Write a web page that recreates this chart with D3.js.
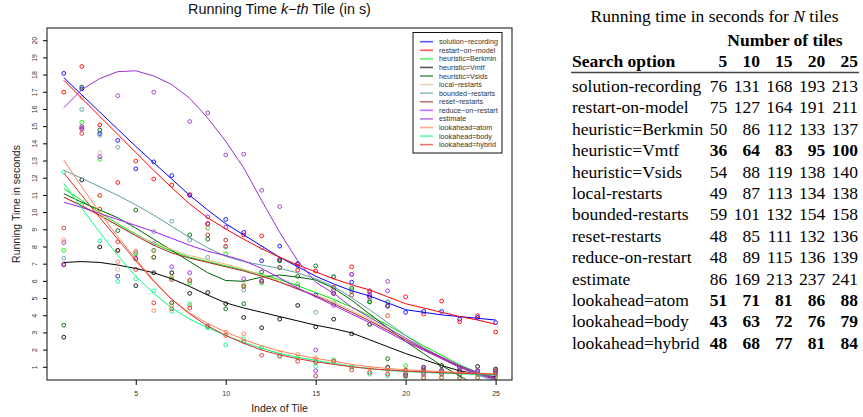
<!DOCTYPE html>
<html>
<head>
<meta charset="utf-8">
<script src="https://cdn.jsdelivr.net/npm/d3@7"></script>
<style>
  body { margin: 0; background: #fff; }
  svg { display: block; }
</style>
</head>
<body>
<svg id="chart" width="863" height="417"></svg>
<script>
// ---- data ----
const tiles = d3.range(1, 26);
const xTicks = [5, 10, 15, 20, 25];
const yTicks = d3.range(1, 21);

const seriesNames = ["solution-recording", "restart-on-model", "heuristic=Berkmin", "heuristic=Vmtf",
  "heuristic=Vsids", "local-restarts", "bounded-restarts", "reset-restarts", "reduce-on-restart",
  "estimate", "lookahead=atom", "lookahead=body", "lookahead=hybrid"];
const seriesColors = ["#0000ff", "#ff0000", "#00ee00", "#000000", "#006400", "#deb887", "#5f9ea0",
  "#a52a2a", "#a020f0", "#9932cc", "#ff7f50", "#00ff7f", "#d9302c"];

// running time of each tile (points)
const solutionRecording = [18.1, 17.2, 14.6, 14.2, 12.55, 12.95, 12.15, 11.0, 9.35, 9.6, 8.85, 7.2, 8.05, 7.0, 5.2, 5.3, 5.95, 5.1, 4.55, 4.2, 4.25, 4.25, 3.8, 3.9, 3.6];
const restartOnModel = [17.0, 18.5, 15.1, 11.75, 13.0, 11.95, 11.6, 11.05, 9.35, 8.05, 8.7, 8.65, 7.25, 6.65, 6.6, 5.65, 6.85, 5.1, 4.0, 5.1, 4.1, 4.85, 3.65, 4.0, 3.05];
const berkmin = [7.8, 15.25, 13.1, 6.3, 7.6, 7.4, 6.2, 5.9, 9.1, 7.6, 5.75, 5.9, 7.2, 5.85, 1.3, 4.75, 5.5, 4.8, 4.8, 1.1, 0.8, 0.85, 0.8, 0.8, 0.75];
const vmtf = [2.75, 11.9, 8.0, 7.8, 5.75, 6.5, 6.5, 5.3, 5.35, 4.7, 3.9, 3.3, 3.8, 4.6, 3.35, 3.8, 2.95, 3.5, 1.0, 0.8, 1.0, 1.1, 1.0, 1.05, 0.9];
const vsids = [3.45, 17.3, 14.8, 8.95, 10.15, 7.8, 4.75, 8.7, 8.45, 4.4, 4.7, 6.55, 7.2, 6.3, 6.9, 6.25, 5.6, 4.8, 1.5, 0.85, 0.4, 0.4, 0.35, 0.4, 0.45];
const localRestarts = [7.0, 15.0, 13.5, 6.7, 7.75, 7.75, 6.25, 6.1, 9.1, 8.0, 5.8, 6.0, 6.8, 5.65, 1.5, 5.5, 5.45, 5.3, 4.0, 0.9, 0.9, 0.8, 0.8, 0.8, 0.7];
const boundedRestarts = [7.35, 16.0, 14.5, 13.8, 7.65, 8.9, 9.5, 8.4, 7.4, 8.0, 5.5, 7.95, 6.8, 6.9, 4.2, 6.3, 5.4, 4.9, 4.8, 0.6, 0.8, 0.8, 0.8, 0.8, 0.8];
const resetRestarts = [7.0, 14.9, 11.0, 7.8, 7.3, 7.4, 6.1, 6.05, 8.7, 8.4, 5.7, 6.0, 6.8, 7.05, 0.5, 5.3, 5.2, 5.4, 4.6, 0.5, 0.8, 0.8, 0.8, 0.8, 0.8];
const reduceOnRestart = [6.95, 15.0, 13.25, 6.3, 7.35, 8.2, 6.85, 6.5, 9.75, 9.15, 6.15, 6.05, 7.3, 5.7, 0.8, 4.6, 6.4, 5.2, 5.45, 0.6, 0.7, 0.7, 0.6, 0.7, 0.65];
const estimate = [8.25, 14.85, 23.0, 16.8, 23.0, 17.0, 21.5, 15.3, 15.8, 13.35, 13.4, 11.3, 10.35, 7.0, 2.0, 5.5, 6.4, 5.45, 6.0, 0.6, 0.9, 0.8, 0.8, 0.8, 0.7];
const atom = [8.4, 16.7, 11.0, 7.15, 7.75, 4.3, 4.6, 4.6, 3.35, 3.05, 2.95, 2.15, 1.85, 1.75, 1.55, 1.35, 1.05, 0.95, 0.85, 0.8, 0.4, 0.4, 0.4, 0.4, 0.4];
const body = [12.35, 10.45, 8.35, 6.0, 6.15, 5.45, 4.25, 4.7, 3.3, 2.3, 2.65, 2.15, 1.65, 1.55, 1.05, 1.45, 1.0, 0.6, 0.5, 0.45, 0.6, 0.6, 0.6, 0.6, 0.6];
const hybrid = [9.1, 14.6, 10.2, 8.3, 6.7, 4.75, 4.4, 4.45, 3.4, 2.85, 2.5, 1.7, 1.65, 1.35, 1.3, 1.35, 0.85, 0.7, 0.6, 0.5, 0.6, 0.6, 0.6, 0.6, 0.6];

// smoothed curves
const solutionRecordingFit = [17.85, 16.85, 15.85, 14.85, 13.85, 12.9, 11.95, 11.0, 10.15, 9.35, 8.7, 8.05, 7.4, 6.85, 6.3, 5.85, 5.45, 5.15, 4.75, 4.35, 4.2, 4.05, 3.95, 3.85, 3.75];
const restartOnModelFit = [17.7, 16.65, 15.6, 14.55, 13.5, 12.45, 11.45, 10.5, 9.7, 9.05, 8.45, 7.9, 7.4, 6.95, 6.55, 6.15, 5.8, 5.5, 5.1, 4.7, 4.45, 4.2, 3.95, 3.75, 3.5];
const berkminFit = [11.4, 10.7, 10.0, 9.35, 8.75, 8.2, 7.75, 7.4, 7.15, 6.9, 6.65, 6.4, 6.1, 5.75, 5.35, 4.95, 4.5, 4.0, 3.45, 2.85, 2.25, 1.7, 1.15, 0.7, 0.3];
const vmtfFit = [7.1, 7.15, 7.1, 6.95, 6.75, 6.5, 6.15, 5.7, 5.2, 4.75, 4.45, 4.2, 3.95, 3.7, 3.45, 3.25, 3.0, 2.6, 2.2, 1.8, 1.45, 1.1, 0.8, 0.6, 0.45];
const vsidsFit = [11.1, 10.6, 10.15, 9.7, 9.1, 8.45, 7.8, 7.15, 6.5, 6.05, 6.0, 6.25, 6.37, 6.25, 6.08, 5.6, 4.9, 4.1, 3.3, 2.5, 1.8, 1.1, 0.5, -0.1, -0.6];
const localRestartsFit = [10.9, 10.35, 9.8, 9.25, 8.7, 8.25, 7.85, 7.5, 7.25, 7.0, 6.7, 6.35, 6.0, 5.6, 5.2, 4.8, 4.3, 3.8, 3.2, 2.6, 2.0, 1.5, 1.0, 0.6, 0.3];
const boundedRestartsFit = [12.45, 12.0, 11.5, 11.0, 10.45, 9.85, 9.2, 8.55, 7.95, 7.45, 7.15, 6.95, 6.75, 6.5, 6.15, 5.7, 5.05, 4.35, 3.6, 2.85, 2.15, 1.55, 1.0, 0.55, 0.2];
const resetRestartsFit = [10.9, 10.4, 9.85, 9.25, 8.65, 8.1, 7.65, 7.35, 7.1, 6.85, 6.6, 6.3, 5.95, 5.55, 5.15, 4.7, 4.2, 3.7, 3.15, 2.6, 2.05, 1.55, 1.05, 0.65, 0.35];
const reduceOnRestartFit = [10.6, 10.3, 9.95, 9.6, 9.25, 8.9, 8.5, 8.1, 7.75, 7.5, 7.2, 6.75, 6.2, 5.6, 5.1, 4.6, 4.1, 3.6, 3.05, 2.5, 2.0, 1.5, 1.0, 0.6, 0.3];
const estimateFit = [16.1, 17.15, 17.8, 18.2, 18.25, 17.95, 17.45, 16.65, 15.5, 14.15, 12.6, 10.7, 8.85, 7.2, 5.95, 5.3, 4.5, 3.9, 3.3, 2.7, 2.1, 1.6, 1.1, 0.7, 0.4];
const atomFit = [13.05, 11.5, 10.0, 8.6, 7.3, 6.05, 4.95, 4.15, 3.55, 3.05, 2.62, 2.25, 1.95, 1.72, 1.52, 1.35, 1.17, 1.03, 0.93, 0.86, 0.8, 0.75, 0.7, 0.65, 0.6];
const bodyFit = [11.7, 10.25, 8.85, 7.5, 6.3, 5.3, 4.45, 3.8, 3.3, 2.85, 2.45, 2.1, 1.8, 1.58, 1.4, 1.22, 1.05, 0.92, 0.82, 0.75, 0.7, 0.66, 0.62, 0.58, 0.55];
const hybridFit = [12.3, 11.0, 9.7, 8.45, 7.2, 6.0, 4.95, 4.1, 3.4, 2.85, 2.4, 2.0, 1.72, 1.5, 1.32, 1.17, 1.03, 0.92, 0.84, 0.78, 0.73, 0.69, 0.65, 0.62, 0.6];

const pointSets = [solutionRecording, restartOnModel, berkmin, vmtf, vsids, localRestarts, boundedRestarts,
  resetRestarts, reduceOnRestart, estimate, atom, body, hybrid];
const fitSets = [solutionRecordingFit, restartOnModelFit, berkminFit, vmtfFit, vsidsFit, localRestartsFit,
  boundedRestartsFit, resetRestartsFit, reduceOnRestartFit, estimateFit, atomFit, bodyFit, hybridFit];

// table on the right
const tileCounts = ["5", "10", "15", "20", "25"];
const optionNames = ["solution-recording", "restart-on-model", "heuristic=Berkmin", "heuristic=Vmtf",
  "heuristic=Vsids", "local-restarts", "bounded-restarts", "reset-restarts", "reduce-on-restart",
  "estimate", "lookahead=atom", "lookahead=body", "lookahead=hybrid"];
const totals = [
  [76, 131, 168, 193, 213], [75, 127, 164, 191, 211], [50, 86, 112, 133, 137], [36, 64, 83, 95, 100],
  [54, 88, 119, 138, 140], [49, 87, 113, 134, 138], [59, 101, 132, 154, 158], [48, 85, 111, 132, 136],
  [48, 89, 115, 136, 139], [86, 169, 213, 237, 241], [51, 71, 81, 86, 88], [43, 63, 72, 76, 79],
  [48, 68, 77, 81, 84]];
const boldNumbers = [false, false, false, true, false, false, false, false, false, false, true, true, true];

// ---- chart ----
const svg = d3.select("#chart");
const sans = "'Liberation Sans', Arial, Helvetica, sans-serif";
const serif = "'Liberation Serif', 'Times New Roman', serif";
const plot = { left: 47, right: 512, top: 28, bottom: 380 };

const x = d3.scaleLinear().domain([1, 25]).range([63.8, 495.6]);
const y = d3.scaleLinear().domain([1, 20]).range([367.3, 40.7]);

svg.append("defs").append("clipPath").attr("id", "plotClip")
  .append("rect").attr("x", plot.left).attr("y", plot.top)
  .attr("width", plot.right - plot.left).attr("height", plot.bottom - plot.top);

svg.append("text").attr("x", 279.5).attr("y", 14).attr("text-anchor", "middle")
  .style("font-family", sans).style("font-size", "14.4px").attr("fill", "#111")
  .call(t => {
    t.append("tspan").text("Running Time ");
    t.append("tspan").style("font-style", "italic").text("k\u2212th");
    t.append("tspan").text(" Tile (in s)");
  });

const layer = svg.append("g").attr("clip-path", "url(#plotClip)");
const line = d3.line().x((d, i) => x(tiles[i])).y(d => y(d));

pointSets.forEach((vals, s) => {
  layer.append("g").selectAll("circle").data(vals).join("circle")
    .attr("cx", (d, i) => x(tiles[i])).attr("cy", d => y(d)).attr("r", 1.9)
    .attr("fill", "none").attr("stroke", seriesColors[s]).attr("stroke-width", 0.9);
});
fitSets.forEach((vals, s) => {
  layer.append("path").datum(vals).attr("d", line)
    .attr("fill", "none").attr("stroke", seriesColors[s]).attr("stroke-width", 1);
});

// frame
svg.append("rect").attr("x", plot.left).attr("y", plot.top)
  .attr("width", plot.right - plot.left).attr("height", plot.bottom - plot.top)
  .attr("fill", "none").attr("stroke", "#222").attr("stroke-width", 1.1);

// x axis
const xAxis = svg.append("g").attr("transform", `translate(0,${plot.bottom})`)
  .call(d3.axisBottom(x).tickValues(xTicks).tickSize(5).tickPadding(6));
xAxis.select(".domain").remove();
xAxis.selectAll("text").style("font-family", sans).style("font-size", "7px").attr("fill", "#333");

// y axis
const yAxis = svg.append("g").attr("transform", `translate(${plot.left},0)`)
  .call(d3.axisLeft(y).tickValues(yTicks).tickSize(4).tickFormat(d3.format("d")));
yAxis.select(".domain").remove();
yAxis.selectAll("text")
  .attr("x", null).attr("dy", null)
  .attr("transform", d => `translate(-10.5,${y(d)}) rotate(-90)`).attr("y", 0)
  .attr("text-anchor", "middle")
  .style("font-family", sans).style("font-size", "7px").attr("fill", "#333");
yAxis.selectAll(".tick").attr("transform", null);
yAxis.selectAll(".tick line").attr("y1", d => y(d)).attr("y2", d => y(d));

svg.append("text").attr("x", 279.5).attr("y", 412).attr("text-anchor", "middle")
  .style("font-family", sans).style("font-size", "10.5px").attr("fill", "#222").text("Index of Tile");
svg.append("text").attr("transform", "translate(20,204) rotate(-90)").attr("text-anchor", "middle")
  .style("font-family", sans).style("font-size", "10.5px").attr("fill", "#222").text("Running Time in seconds");

// legend
const legend = svg.append("g");
legend.append("rect").attr("x", 413).attr("y", 32.5).attr("width", 89).attr("height", 120.5)
  .attr("fill", "#fff").attr("stroke", "#111").attr("stroke-width", 1);
seriesNames.forEach((name, i) => {
  const ly = 41.7 + i * 8.58;
  legend.append("line").attr("x1", 420).attr("x2", 433).attr("y1", ly).attr("y2", ly)
    .attr("stroke", seriesColors[i]).attr("stroke-width", 1.6).attr("stroke-opacity", 0.65);
  legend.append("text").attr("x", 439).attr("y", ly + 2.5)
    .style("font-family", sans).style("font-size", "7.2px").attr("fill", "#333")
    .text(name.replace(/-/g, "\u2212"));
});

// ---- table ----
const fs = 17.5;
const labelX = 572;
const colRight = [727.3, 760, 792.6, 825.3, 858];
const table = svg.append("g").style("font-family", serif).style("font-size", fs + "px").attr("fill", "#000");

table.append("text").attr("x", 714.5).attr("y", 22).attr("text-anchor", "middle")
  .call(t => {
    t.append("tspan").text("Running time in seconds for ");
    t.append("tspan").style("font-style", "italic").text("N");
    t.append("tspan").text(" tiles");
  });
table.append("text").attr("x", 785).attr("y", 46).attr("text-anchor", "middle")
  .style("font-weight", "bold").text("Number of tiles");
table.append("text").attr("x", labelX).attr("y", 67).style("font-weight", "bold").text("Search option");
tileCounts.forEach((c, j) => {
  table.append("text").attr("x", colRight[j]).attr("y", 67).attr("text-anchor", "end")
    .style("font-weight", "bold").text(c);
});
table.append("line").attr("x1", 571).attr("x2", 859).attr("y1", 72.5).attr("y2", 72.5)
  .attr("stroke", "#444").attr("stroke-width", 1.4);

optionNames.forEach((name, i) => {
  const by = 92 + i * 21.4;
  table.append("text").attr("x", labelX).attr("y", by).text(name);
  totals[i].forEach((v, j) => {
    table.append("text").attr("x", colRight[j]).attr("y", by).attr("text-anchor", "end")
      .style("font-weight", boldNumbers[i] ? "bold" : "normal").text(v);
  });
});
</script>
</body>
</html>
